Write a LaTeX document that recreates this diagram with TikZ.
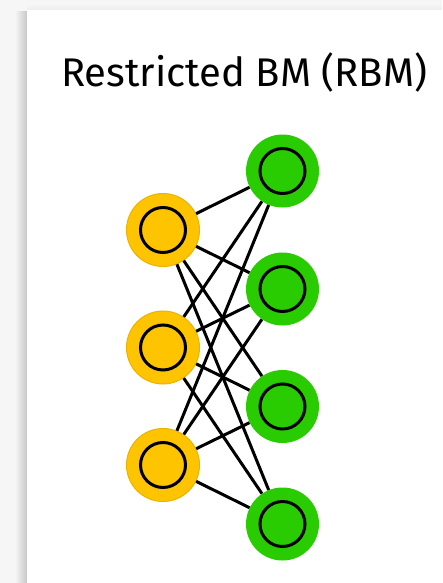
\documentclass[tikz,border=0pt]{standalone}
\usepackage{fontspec}
\setmainfont{Fira Sans}
\usepackage{tikz}
\usetikzlibrary{calc}

\definecolor{pagegray}{HTML}{F6F6F6}
\definecolor{visyellow}{HTML}{FFC400}
\definecolor{visborder}{HTML}{E9B400}
\definecolor{hidgreen}{HTML}{28CC00}

\tikzset{
    unit/.style={circle, minimum size=73pt, inner sep=0pt,
        path picture={\draw[black, line width=3pt] (path picture bounding box.center) circle (22.5pt);}},
    visible/.style={unit, fill=visyellow, draw=visborder, line width=1pt},
    hidden/.style={unit, fill=hidgreen},
    weight/.style={line width=3pt, black}
}

\begin{document}
\begin{tikzpicture}[x=1pt, y=-1pt]

            \useasboundingbox (0,0) rectangle (442,583);
            \fill[pagegray] (0,0) rectangle (442,583);
            \shade[left color=pagegray, right color=black!22] (15,12) rectangle (27,583);
            \shade[top color=pagegray, bottom color=black!7] (27,4) rectangle (442,10);
            \fill[white] (27,10) rectangle (442,583);

            \node[anchor=base west, inner sep=0pt, font=\fontsize{40}{44}\selectfont] (title) at (61,87) {Restricted BM (RBM)};

            \node[visible] (v1) at (163,230) {};
            \node[visible] (v2) at (163,347.5) {};
            \node[visible] (v3) at (163,465) {};

            \node[hidden] (h1) at (282.5,171) {};
            \node[hidden] (h2) at (282.5,289) {};
            \node[hidden] (h3) at (282.5,406.5) {};
            \node[hidden] (h4) at (282.5,524) {};

            \foreach \v in {v1,v2,v3}
                \foreach \h in {h1,h2,h3,h4}
                    \draw[weight] (\v) -- (\h);

        \end{tikzpicture}
\end{document}
